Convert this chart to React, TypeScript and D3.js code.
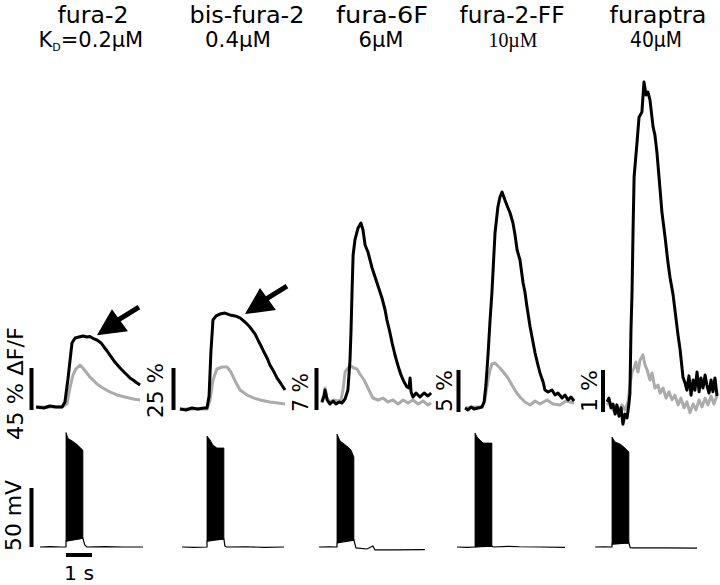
import React from "react";
import * as d3 from "d3";

type Pt = [number, number];
type Env = [number, number, number];

// dye names and dissociation constants
const TITLES = ["fura-2", "bis-fura-2", "fura-6F", "fura-2-FF", "furaptra"];
const KD_LABELS = ["0.2µM", "0.4µM", "6µM", "10µM", "40µM"];
// size of the vertical scale bar in each panel, % ΔF/F
const BAR_PERCENT = [45, 25, 7, 5, 1];

// fluorescence traces: [time (s) from stimulus onset, ΔF/F (%)]
const BLACK_1: Pt[] = [[-1.15, 0], [-0.85, -1.1], [-0.62, 1.1], [-0.38, 0], [-0.15, 0], [-0.04, 5.4], [0.08, 31.1], [0.23, 68.6], [0.35, 73.9], [0.5, 75], [0.65, 76.1], [0.81, 75], [0.92, 75.5], [1.08, 72.9], [1.19, 71.8], [1.35, 68.6], [1.46, 64.3], [1.58, 60], [1.69, 55.7], [1.88, 48.2], [2.08, 41.8], [2.23, 37.5], [2.35, 34.3], [2.46, 31.1], [2.58, 28.9], [2.73, 25.7], [2.85, 23.6]];
const GRAY_1: Pt[] = [[-1.15, 0], [-0.62, 0], [-0.15, 0], [0.04, 3.2], [0.15, 20.4], [0.27, 34.3], [0.38, 40.7], [0.54, 45], [0.65, 41.8], [0.77, 37.5], [0.92, 32.1], [1.08, 27.9], [1.19, 24.6], [1.42, 20.4], [1.69, 16.1], [1.96, 12.9], [2.27, 10.7], [2.58, 8.6], [2.85, 7.5]];

const BLACK_2: Pt[] = [[-1.04, 0], [-0.81, -0.6], [-0.58, 0.6], [-0.35, 0], [-0.12, 0.6], [0, 0.6], [0.08, 7.7], [0.15, 33.9], [0.23, 53], [0.35, 55.4], [0.5, 56.5], [0.69, 57.1], [0.88, 56], [1.08, 55.4], [1.27, 54.2], [1.46, 51.8], [1.65, 48.8], [1.85, 44.6], [1.96, 41.1], [2.08, 37.5], [2.19, 33.9], [2.31, 30.4], [2.42, 26.2], [2.58, 22], [2.69, 18.5], [2.85, 14.9], [3.0, 11.3]];
const GRAY_2: Pt[] = [[-1.04, 0], [0, 0], [0.12, 5.4], [0.23, 17.3], [0.38, 23.8], [0.58, 25], [0.77, 25], [0.92, 22], [1.08, 16.7], [1.27, 11.3], [1.54, 8.3], [1.81, 6.5], [2.04, 5.4], [2.42, 4.2], [3.0, 3]];

const BLACK_3: Pt[] = [[-0.58, 0.17], [-0.5, 1.17], [-0.46, 2.17], [-0.38, 0.5], [-0.27, -0.17], [-0.15, 0.33], [-0.04, -0.17], [0.08, 0.17], [0.19, 0], [0.31, 0.67], [0.42, 2.17], [0.5, 7.17], [0.54, 12.17], [0.58, 18.83], [0.62, 24.67], [0.69, 27.17], [0.81, 29.17], [0.92, 30], [1.0, 28.83], [1.08, 26.33], [1.19, 25.17], [1.35, 22.5], [1.54, 20], [1.73, 17.5], [1.85, 15.5], [1.92, 13.83], [2.04, 11.67], [2.12, 10], [2.23, 8], [2.35, 6.17], [2.46, 4.67], [2.58, 3.5], [2.69, 2.67], [2.77, 2.5], [2.81, 4.17], [2.85, 1.83], [2.92, 1], [3.04, 1.67], [3.19, 1], [3.35, 1.67], [3.5, 1.17], [3.62, 1.67]];
const GRAY_3: Pt[] = [[-0.58, 0], [-0.5, 1.33], [-0.46, 2.5], [-0.38, 0.83], [-0.27, 0.17], [-0.12, 0.5], [0.04, 0.33], [0.15, 0.5], [0.23, 2.17], [0.31, 5.17], [0.42, 5.83], [0.54, 6.17], [0.65, 5.83], [0.77, 5.67], [0.88, 4.83], [1.04, 3.83], [1.19, 2.5], [1.38, 0.83], [1.58, 0.5], [1.77, 0.83], [1.96, 0.17], [2.15, 0.5], [2.35, -0.17], [2.54, 0.5], [2.73, 0], [2.92, 0.5], [3.12, -0.17], [3.31, 0.33], [3.5, -0.33], [3.62, 0]];

const BLACK_4: Pt[] = [[-0.38, 0], [-0.27, -0.24], [-0.15, 0.12], [-0.04, -0.12], [0.12, 0], [0.27, 0.12], [0.35, 0.71], [0.42, 2.74], [0.5, 6.31], [0.58, 10.48], [0.65, 13.69], [0.77, 20.83], [0.88, 23.93], [0.96, 25.12], [1.04, 25.71], [1.15, 24.76], [1.27, 23.81], [1.35, 23.21], [1.46, 22.02], [1.54, 20.6], [1.62, 18.81], [1.73, 17.62], [1.85, 14.88], [1.92, 13.81], [2.0, 12.02], [2.12, 9.64], [2.23, 7.86], [2.31, 6.55], [2.42, 5.12], [2.5, 4.17], [2.62, 3.1], [2.69, 2.14], [2.81, 1.9], [2.96, 2.14], [3.08, 1.55], [3.19, 1.79], [3.35, 1.19], [3.46, 1.55], [3.58, 0.95], [3.69, 1.31], [3.81, 0.83]];
const GRAY_4: Pt[] = [[-0.38, 0], [0, 0.12], [0.27, 0.12], [0.38, 0.95], [0.5, 3.33], [0.58, 4.52], [0.65, 5.24], [0.77, 5.36], [0.88, 5.0], [0.96, 4.76], [1.12, 4.17], [1.27, 3.57], [1.42, 2.74], [1.58, 1.9], [1.73, 1.31], [1.92, 0.71], [2.12, 0.36], [2.31, 0.83], [2.5, 0.48], [2.77, 0.95], [3.0, 0.48], [3.27, 0.36], [3.5, 0.83], [3.81, 0.6]];

const BLACK_5: Pt[] = [[-0.19, 0.24], [-0.12, 0.33], [-0.04, 0.1], [0.04, 0.19], [0.12, -0.05], [0.19, 0.17], [0.27, -0.1], [0.35, 0.1], [0.42, -0.29], [0.5, -0.05], [0.58, -0.14], [0.65, 0.19], [0.69, 0.45], [0.73, 1.95], [0.77, 2.83], [0.81, 4.33], [0.85, 5.6], [0.96, 6.4], [1.04, 7.02], [1.15, 7.14], [1.23, 7.86], [1.31, 7.55], [1.38, 7.62], [1.46, 7.43], [1.58, 6.79], [1.65, 6.6], [1.73, 6.17], [1.85, 5.29], [1.92, 4.76], [2.04, 4.17], [2.15, 3.57], [2.23, 3.21], [2.35, 2.79], [2.42, 2.43], [2.54, 1.83], [2.62, 1.48], [2.73, 0.83], [2.81, 0.69], [2.88, 0.52], [2.96, 0.86], [3.04, 0.4], [3.12, 0.76], [3.19, 0.52], [3.27, 0.95], [3.35, 0.48], [3.42, 0.81], [3.5, 0.57], [3.58, 0.88], [3.65, 0.64], [3.73, 0.45], [3.81, 0.76], [3.88, 0.48], [3.96, 0.81], [4.04, 0.38]];
const GRAY_5: Pt[] = [[-0.19, 0.17], [-0.08, 0.24], [0.04, 0.05], [0.15, 0.14], [0.27, 0], [0.38, 0.17], [0.5, 0.05], [0.62, 0.24], [0.69, 0.64], [0.77, 0.95], [0.85, 1.05], [0.92, 1.19], [1.0, 0.95], [1.08, 1.24], [1.19, 1.36], [1.27, 1.12], [1.35, 1.0], [1.46, 0.76], [1.54, 0.93], [1.65, 0.57], [1.77, 0.64], [1.85, 0.45], [1.96, 0.57], [2.08, 0.33], [2.19, 0.48], [2.31, 0.29], [2.42, 0.4], [2.54, 0.17], [2.65, 0.33], [2.77, 0.1], [2.88, 0.24], [3.0, -0.02], [3.12, 0.19], [3.23, 0.05], [3.35, 0.29], [3.46, 0.12], [3.58, 0.33], [3.69, 0.17], [3.81, 0.38], [3.92, 0.19], [4.04, 0.4]];

// membrane potential: [time (s), mV above rest]
const VM_1: Pt[] = [[-1.0, 0], [-0.6, 0.3], [-0.2, 0], [0, 0], [0, 5], [0.65, 7.5], [0.72, 1.7], [0.8, 0], [1.5, 0.3], [2.2, 0], [2.96, 0]];
const VM_2: Pt[] = [[-0.96, 0], [-0.5, -0.3], [0, 0], [0, 5], [0.65, 6.8], [0.69, 0.8], [0.75, 0], [1.5, 0.2], [2.2, -0.3], [2.96, 0]];
const VM_3: Pt[] = [[-0.69, 0], [-0.3, 0.2], [0, 0], [0, 3.4], [0.65, 5.9], [0.73, -0.8], [1.15, -1.7], [1.38, 0.8], [1.46, -2.5], [2.3, -2.5], [3.38, -2.2]];
const VM_4: Pt[] = [[-0.69, 0], [-0.3, -0.3], [0, 0], [0.65, 0.8], [0.7, 0], [1.3, 0.5], [1.7, 0.2], [2.5, 0], [3.46, -0.3]];
const VM_5: Pt[] = [[-0.65, 0], [-0.3, 0.2], [0, 0], [0, 2.5], [0.65, 3.4], [0.7, -0.5], [0.8, -0.8], [2, -0.8], [3.27, -1]];
// spike train envelope: [time (s), peak mV, trough mV]
const BURST_1: Env[] = [[0, 97, 5], [0.08, 92, 5.5], [0.23, 90, 6], [0.42, 87, 6.5], [0.65, 82, 7.5]];
const BURST_2: Env[] = [[0, 94, 5], [0.12, 90.7, 5.5], [0.23, 86.4, 6], [0.38, 83.9, 6.4], [0.65, 83.9, 6.8]];
const BURST_3: Env[] = [[0, 95.8, 3.4], [0.12, 89.8, 4], [0.23, 88.1, 5], [0.42, 84.7, 5.4], [0.54, 82.2, 5.7], [0.65, 76.3, 5.9]];
const BURST_4: Env[] = [[0, 96.6, 0], [0.08, 93.2, 0.2], [0.19, 90.7, 0.4], [0.31, 88.1, 0.6], [0.65, 88.1, 0.8]];
const BURST_5: Env[] = [[0, 93.2, 2.5], [0.12, 89, 2.8], [0.31, 87.3, 3], [0.46, 84.7, 3.2], [0.65, 80.5, 3.4]];

// arrows point at [time, ΔF/F] in panels 1 and 2
const ARROW_TARGETS: (Pt | null)[] = [[1.19, 77], [1.46, 56.5], null, null, null];

const BLACKS = [BLACK_1, BLACK_2, BLACK_3, BLACK_4, BLACK_5];
const GRAYS = [GRAY_1, GRAY_2, GRAY_3, GRAY_4, GRAY_5];
const VMS = [VM_1, VM_2, VM_3, VM_4, VM_5];
const BURSTS = [BURST_1, BURST_2, BURST_3, BURST_4, BURST_5];

// panel layout (pixels)
const LAYOUT = [
  { x0: 66, base: 407, barX: 31.5, barBottom: 410, labelX: 23, labelBottom: 440, labelLen: 113, titleX: 93, titleLen: 71, subX: 93, subLen: 109 },
  { x0: 207, base: 409, barX: 173.5, barBottom: 410, labelX: 163, labelBottom: 418, labelLen: 55, titleX: 247, titleLen: 115, subX: 238, subLen: 66 },
  { x0: 337, base: 403, barX: 316.5, barBottom: 410, labelX: 308, labelBottom: 412, labelLen: 39, titleX: 382, titleLen: 92, subX: 381, subLen: 45 },
  { x0: 475, base: 408, barX: 458.5, barBottom: 412, labelX: 452, labelBottom: 412, labelLen: 42, titleX: 512, titleLen: 105, subX: 513, subLen: 49 },
  { x0: 612, base: 412, barX: 603, barBottom: 412, labelX: 597, labelBottom: 412, labelLen: 42, titleX: 658, titleLen: 97, subX: 656, subLen: 52 },
];

const SANS = "'DejaVu Sans', Verdana, sans-serif";
const SERIF = "'Liberation Serif', 'Times New Roman', serif";
const GRAY = "#ababab";

export default function App() {
  const secPx = 26;
  const barPx = 42;
  const vY = d3.scaleLinear().domain([0, 50]).range([547, 488]);

  return (
    <svg width={720} height={585} style={{ position: "absolute", left: 0, top: 0, background: "#fff" }}>
      {LAYOUT.map((L, i) => {
        const x = d3.scaleLinear().domain([0, 1]).range([L.x0, L.x0 + secPx]);
        const y = d3.scaleLinear().domain([0, BAR_PERCENT[i]]).range([L.base, L.base - barPx]);
        const line = d3.line<Pt>().x(d => x(d[0])).y(d => y(d[1]));
        const vLine = d3.line<Pt>().x(d => x(d[0])).y(d => vY(d[1]));
        const burst = d3.area<Env>().x(d => x(d[0])).y0(d => vY(d[2])).y1(d => vY(d[1]));
        const barH = y(0) - y(BAR_PERCENT[i]);
        const label = BAR_PERCENT[i] + " %" + (i === 0 ? " ΔF/F" : "");
        const target = ARROW_TARGETS[i];
        return (
          <g key={i}>
            <text x={L.titleX} y={23} textAnchor="middle" fontFamily={SANS} fontSize={23}
              textLength={L.titleLen} lengthAdjust="spacingAndGlyphs">{TITLES[i]}</text>
            {i === 0 ? (
              <text x={L.subX - L.subLen / 2} y={47} fontFamily={SANS} fontSize={21}>
                <tspan>K</tspan>
                <tspan fontSize={11} dy={4}>D</tspan>
                <tspan dy={-4}>{"=" + KD_LABELS[i]}</tspan>
              </text>
            ) : (
              <text x={L.subX} y={47} textAnchor="middle" fontFamily={i === 3 ? SERIF : SANS}
                fontSize={i === 3 ? 22 : 21} textLength={L.subLen} lengthAdjust="spacingAndGlyphs">{KD_LABELS[i]}</text>
            )}

            <line x1={L.barX} x2={L.barX} y1={L.barBottom} y2={L.barBottom - barH} stroke="#000" strokeWidth={4} />
            <text transform={`translate(${L.labelX},${L.labelBottom}) rotate(-90)`} fontFamily={SANS} fontSize={21}
              textLength={L.labelLen} lengthAdjust="spacingAndGlyphs">{label}</text>

            <path d={line(GRAYS[i]) || ""} fill="none" stroke={GRAY} strokeWidth={3} strokeLinejoin="round" />
            <path d={line(BLACKS[i]) || ""} fill="none" stroke="#000" strokeWidth={3} strokeLinejoin="round" />

            {target && (() => {
              const tx = x(target[0]);
              const ty = y(target[1]);
              return (
                <g>
                  <line x1={tx + 21} y1={ty - 15} x2={tx + 42} y2={ty - 28} stroke="#000" strokeWidth={5} />
                  <polygon points={`${tx},${ty} ${tx + 15},${ty - 26} ${tx + 31},${ty - 4}`} fill="#000" />
                </g>
              );
            })()}

            <path d={burst(BURSTS[i]) || ""} fill="#000" stroke="#000" strokeWidth={0.8} />
            <path d={vLine(VMS[i]) || ""} fill="none" stroke="#000" strokeWidth={1.2} />

            {i === 0 && (
              <g>
                <line x1={L.barX} x2={L.barX} y1={vY(0)} y2={vY(50)} stroke="#000" strokeWidth={4} />
                <text transform={`translate(21,551) rotate(-90)`} fontFamily={SANS} fontSize={21}
                  textLength={71} lengthAdjust="spacingAndGlyphs">50 mV</text>
                <line x1={x(0)} x2={x(1)} y1={555} y2={555} stroke="#000" strokeWidth={4} />
                <text x={(x(0) + x(1)) / 2} y={580} textAnchor="middle" fontFamily={SANS} fontSize={20}
                  textLength={30} lengthAdjust="spacingAndGlyphs">1 s</text>
              </g>
            )}
          </g>
        );
      })}
    </svg>
  );
}
